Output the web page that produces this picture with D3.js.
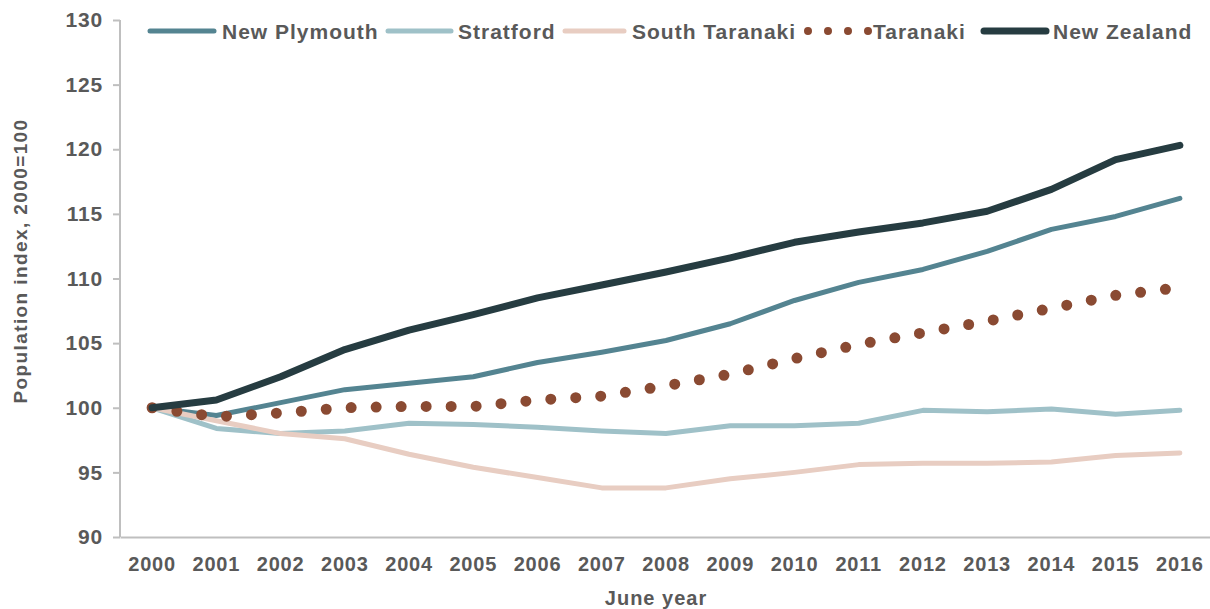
<!DOCTYPE html>
<html><head><meta charset="utf-8">
<script src="https://cdn.jsdelivr.net/npm/d3@7"></script>
<style>body{margin:0;background:#fff}svg{display:block}</style>
</head><body>
<svg id="c" width="1210" height="609"></svg>
<script>
const years = ["2000","2001","2002","2003","2004","2005","2006","2007","2008","2009","2010","2011","2012","2013","2014","2015","2016"];
const newPlymouth = [100,99.4,100.4,101.4,101.9,102.4,103.5,104.3,105.2,106.5,108.3,109.7,110.7,112.1,113.8,114.8,116.2];
const stratford = [100,98.4,98.0,98.2,98.8,98.7,98.5,98.2,98.0,98.6,98.6,98.8,99.8,99.7,99.9,99.5,99.8];
const southTaranaki = [100,99.0,98.0,97.6,96.4,95.4,94.6,93.8,93.8,94.5,95.0,95.6,95.7,95.7,95.8,96.3,96.5];
const taranaki = [100,99.3,99.6,100.0,100.1,100.1,100.6,100.9,101.7,102.6,103.8,104.9,105.8,106.7,107.7,108.7,109.3];
const newZealand = [100,100.6,102.4,104.5,106.0,107.2,108.5,109.5,110.5,111.6,112.8,113.6,114.3,115.2,116.9,119.2,120.3];
const yTicks = [90,95,100,105,110,115,120,125,130];
const seriesNames = ["New Plymouth","Stratford","South Taranaki","Taranaki","New Zealand"];

const series = [
  {name:seriesNames[0], values:newPlymouth, color:"#548491", width:5, dotted:false},
  {name:seriesNames[1], values:stratford, color:"#9fc1c8", width:5, dotted:false},
  {name:seriesNames[2], values:southTaranaki, color:"#e8cdc2", width:5, dotted:false},
  {name:seriesNames[3], values:taranaki, color:"#8a4a32", width:11, dotted:true},
  {name:seriesNames[4], values:newZealand, color:"#263c41", width:7, dotted:false}
];

const svg = d3.select("#c");
const font = "'Liberation Sans', Arial, sans-serif";
const txt = "#595959";
const x = d3.scaleBand().domain(years).range([120,1212]);
const y = d3.scaleLinear().domain([90,130]).range([537,20]);
const cx = d => x(d) + x.bandwidth()/2;

// axes
const yAxis = svg.append("g").attr("transform","translate(120,0)")
  .call(d3.axisLeft(y).tickValues(yTicks).tickSize(7).tickPadding(10));
yAxis.select(".domain").attr("stroke","#bfbfbf").attr("stroke-width",2).attr("d","M0,20V537");
yAxis.selectAll(".tick line").attr("stroke","#bfbfbf").attr("stroke-width",2);
yAxis.selectAll("text").attr("fill",txt).attr("font-family",font).attr("font-weight","bold").attr("font-size",21).style("letter-spacing","0.8px");

const xAxis = svg.append("g").attr("transform","translate(0,537)")
  .call(d3.axisBottom(x).tickSize(0).tickPadding(20));
xAxis.select(".domain").attr("stroke","#bfbfbf").attr("stroke-width",2);
xAxis.selectAll("text").attr("fill",txt).attr("font-family",font).attr("font-weight","bold").attr("font-size",20).style("letter-spacing","0.8px");

// titles
svg.append("text").attr("x",656).attr("y",605).attr("text-anchor","middle")
  .attr("fill",txt).attr("font-family",font).attr("font-weight","bold").attr("font-size",20).style("letter-spacing","1px").text("June year");
svg.append("text").attr("transform","translate(27,261) rotate(-90)").attr("text-anchor","middle")
  .attr("fill",txt).attr("font-family",font).attr("font-weight","bold").attr("font-size",19).style("letter-spacing","1.4px").text("Population index, 2000=100");

// lines
const line = d3.line().x((d,i)=>cx(years[i])).y(d=>y(d)).curve(d3.curveLinear);
series.forEach(s=>{
  const p = svg.append("path").attr("d",line(s.values)).attr("fill","none")
    .attr("stroke",s.color).attr("stroke-width",s.width)
    .attr("stroke-linecap","round").attr("stroke-linejoin","round");
  if(s.dotted) p.attr("stroke-dasharray","0,25");
});

// legend
const legendLine = [[150,214],[388,451],[565,624],[808,868.5],[984,1046]];
const legendText = [222,458,632,873,1053];
const lg = svg.append("g");
series.forEach((s,i)=>{
  const [a,b] = legendLine[i];
  const l = lg.append("line").attr("x1",a).attr("x2",b).attr("y1",31).attr("y2",31)
    .attr("stroke",s.color).attr("stroke-linecap","round");
  if(s.dotted) l.attr("stroke-width",8).attr("stroke-dasharray","0,20");
  else l.attr("stroke-width",s.name==="New Zealand"?7:5);
  lg.append("text").attr("x",legendText[i]).attr("y",39).attr("fill",txt)
    .attr("font-family",font).attr("font-weight","bold").attr("font-size",21).style("letter-spacing","1px").text(s.name);
});
</script>
</body></html>
